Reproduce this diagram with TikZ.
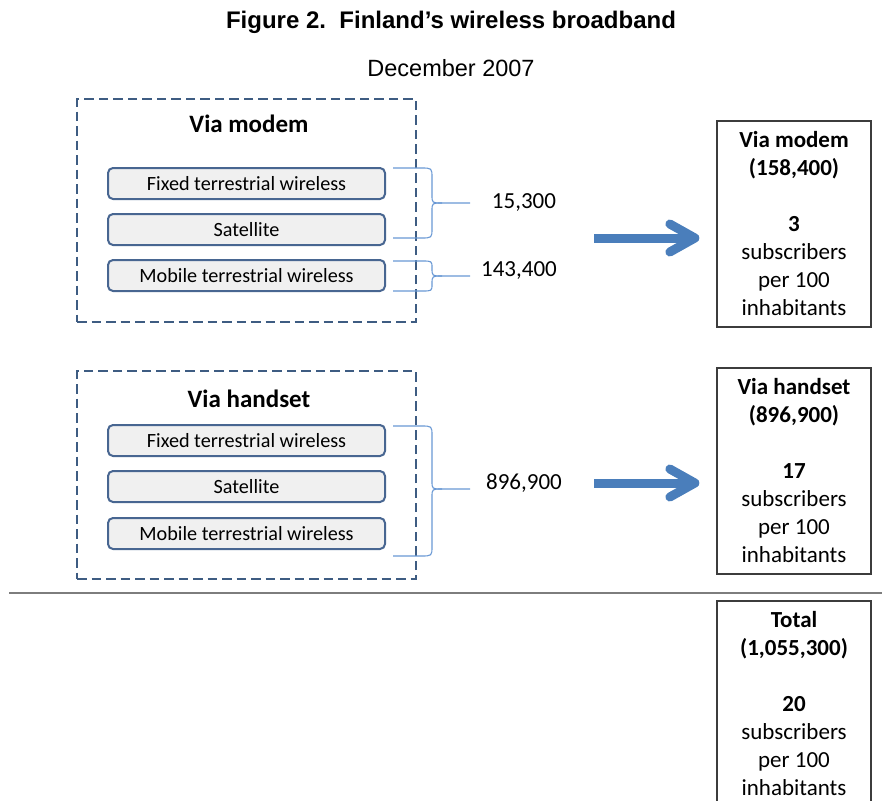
\documentclass[tikz,border=0pt]{standalone}
\usepackage{fontspec}
\setmainfont{Carlito}
\newfontfamily\arialfont{Liberation Sans}
\usetikzlibrary{arrows.meta}
\definecolor{dashblue}{RGB}{62,92,130}
\definecolor{techborder}{RGB}{72,102,145}
\definecolor{techfill}{RGB}{240,240,240}
\definecolor{braceblue}{RGB}{105,152,212}
\definecolor{arrowblue}{RGB}{74,126,187}
\definecolor{sepgray}{RGB}{125,125,125}
\definecolor{resborder}{RGB}{60,60,60}
\begin{document}
\begin{tikzpicture}[x=1pt,y=-1pt,
  titlestyle/.style={font=\arialfont\bfseries\fontsize{24}{28}\selectfont, inner sep=0pt},
  datestyle/.style={font=\arialfont\fontsize{23.5}{28}\selectfont, inner sep=0pt},
  groupbox/.style={draw=dashblue, line width=2.4pt, dash pattern=on 9.5pt off 5pt, minimum width=339pt, inner sep=0pt},
  grouptitle/.style={font=\bfseries\fontsize{25}{30}\selectfont, inner sep=0pt},
  techbox/.style={draw=techborder, fill=techfill, line width=2pt, rounded corners=5pt, minimum width=277pt, minimum height=31pt, inner sep=0pt, font=\fontsize{20.2}{24}\selectfont},
  bracestyle/.style={draw=braceblue, line width=1.1pt},
  numstyle/.style={font=\fontsize{23}{28}\selectfont, inner sep=0pt},
  bigarrow/.style={draw=arrowblue, line width=9pt, -{Straight Barb[round,length=25pt,width=28pt]}, shorten >=17pt},
  resultbox/.style={draw=resborder, line width=1.3pt, minimum width=154pt, minimum height=206pt, inner sep=0pt, align=center, font=\fontsize{23}{28}\selectfont},
  sepline/.style={draw=sepgray, line width=2pt}
]
\useasboundingbox (0,0) rectangle (882,800);

\node[titlestyle] (title) at (451,22) {Figure 2.\ \ Finland’s wireless broadband};
\node[datestyle] (date) at (451,68) {December 2007};

% Via modem group
\node[groupbox, minimum height=223pt] (g1) at (246.5,210.5) {};
\node[grouptitle] (g1t) at (249,124) {Via modem};
\node[techbox] (m1) at (246.5,183.5) {Fixed terrestrial wireless};
\node[techbox] (m2) at (246.5,229.5) {Satellite};
\node[techbox] (m3) at (246.5,275.5) {Mobile terrestrial wireless};

\draw[bracestyle] (393,168) -- (421,168) .. controls (432,168) .. (432,178) -- (432,195) .. controls (432,203) .. (442,203) -- (470,203);
\draw[bracestyle] (393,238) -- (421,238) .. controls (432,238) .. (432,228) -- (432,211) .. controls (432,203) .. (442,203);
\draw[bracestyle] (393,261) -- (422,261) .. controls (432,261) .. (432,268) .. controls (432,276) .. (442,276) -- (470,276);
\draw[bracestyle] (393,291) -- (422,291) .. controls (432,291) .. (432,284) .. controls (432,276) .. (442,276);

\node[numstyle] (n1) at (524,203) {15,300};
\node[numstyle] (n2) at (519,271) {143,400};

% Via handset group
\node[groupbox, minimum height=208pt] (g2) at (246.5,475) {};
\node[grouptitle] (g2t) at (249,399) {Via handset};
\node[techbox] (h1) at (246.5,440.5) {Fixed terrestrial wireless};
\node[techbox] (h2) at (246.5,486.5) {Satellite};
\node[techbox] (h3) at (246.5,533.5) {Mobile terrestrial wireless};

\draw[bracestyle] (393,426) -- (421,426) .. controls (432,426) .. (432,436) -- (432,481) .. controls (432,489) .. (442,489) -- (470,489);
\draw[bracestyle] (393,556) -- (421,556) .. controls (432,556) .. (432,546) -- (432,497) .. controls (432,489) .. (442,489);

\node[numstyle] (n3) at (524,483) {896,900};

% Result boxes
\node[resultbox] (r1) at (794,224) {\textbf{Via modem}\\\textbf{(158,400)}\\[28pt]\textbf{3}\\subscribers\\per 100\\inhabitants};
\node[resultbox] (r2) at (794,471) {\textbf{Via handset}\\\textbf{(896,900)}\\[28pt]\textbf{17}\\subscribers\\per 100\\inhabitants};
\node[resultbox] (r3) at (794,704) {\textbf{Total}\\\textbf{(1,055,300)}\\[28pt]\textbf{20}\\subscribers\\per 100\\inhabitants};

% Arrows
\coordinate (s1) at (594,238);
\coordinate (s2) at (594,483);
\draw[bigarrow] (s1) -- (r1.west |- s1);
\draw[bigarrow] (s2) -- (r2.west |- s2);

% Separator
\coordinate (sepL) at (9,593);
\coordinate (sepR) at (882,593);
\draw[sepline] (sepL) -- (sepR);
\end{tikzpicture}
\end{document}
